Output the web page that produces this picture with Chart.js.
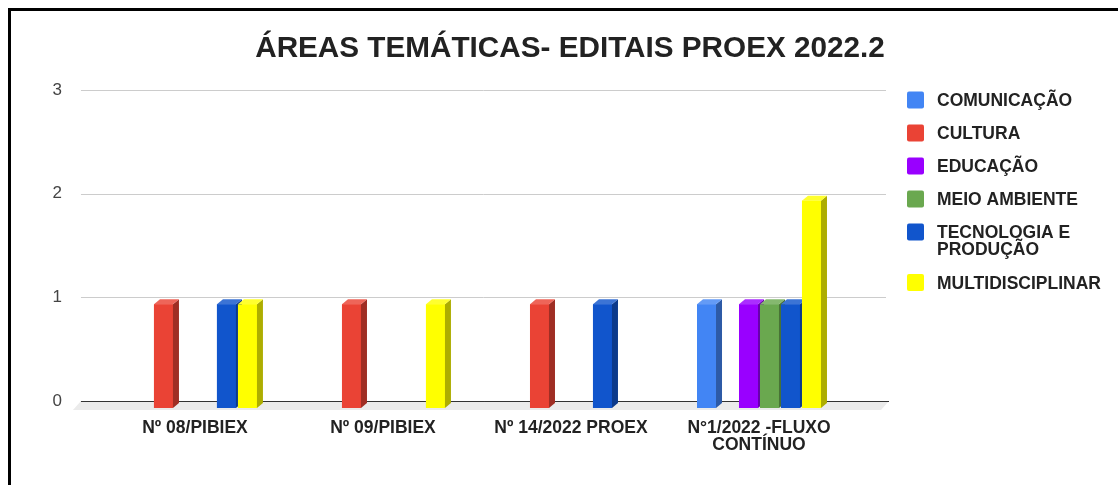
<!DOCTYPE html>
<html>
<head>
<meta charset="utf-8">
<script src="https://cdn.jsdelivr.net/npm/chart.js@4.4.0/dist/chart.umd.min.js"></script>
<style>
  html, body { margin: 0; padding: 0; background: #fff; }
  #wrap { width: 1118px; height: 485px; position: relative; }
</style>
</head>
<body>
<div id="wrap"><canvas id="grafico"></canvas></div>
<script>
// dados
const categorias = ['Nº 08/PIBIEX', 'Nº 09/PIBIEX', 'Nº 14/2022 PROEX', ['N°1/2022 -FLUXO', 'CONTÍNUO']];
const areas = ['COMUNICAÇÃO', 'CULTURA', 'EDUCAÇÃO', 'MEIO AMBIENTE', 'TECNOLOGIA E PRODUÇÃO', 'MULTIDISCIPLINAR'];
const comunicacao      = [0, 0, 0, 1];
const cultura          = [1, 1, 1, 0];
const educacao         = [0, 0, 0, 1];
const meioAmbiente     = [0, 0, 0, 1];
const tecnologia       = [1, 0, 1, 1];
const multidisciplinar = [1, 1, 0, 2];
const cores = ['#4285f4', '#ea4335', '#9900ff', '#6aa84f', '#1155cc', '#ffff00'];
const titulo = 'ÁREAS TEMÁTICAS- EDITAIS PROEX 2022.2';

const FONTE = "'Liberation Sans', Arial, sans-serif";
const FRENTE = 7;          // deslocamento vertical da face frontal
const PX = 6, PY = 5;      // profundidade das barras

function misturar(hex, alvo, f) {
    const n = parseInt(hex.slice(1), 16);
    const c = [(n >> 16) & 255, (n >> 8) & 255, n & 255].map(v => Math.round(v + (alvo - v) * f));
    return 'rgb(' + c.join(',') + ')';
}

// chao, linhas de grade e eixo
const fundo = {
    id: 'fundo',
    beforeDatasetsDraw(chart) {
        const { ctx, chartArea, scales: { y } } = chart;
        const y0 = y.getPixelForValue(0);
        const esq = chartArea.left - 20, dir = chartArea.right + 33;
        ctx.save();
        ctx.fillStyle = '#ebebeb';
        ctx.beginPath();
        ctx.moveTo(esq, y0);
        ctx.lineTo(dir + 3, y0);
        ctx.lineTo(dir - 5, y0 + 9);
        ctx.lineTo(esq - 8, y0 + 9);
        ctx.closePath();
        ctx.fill();
        y.ticks.forEach(t => {
            const py = Math.round(y.getPixelForValue(t.value)) + 0.5;
            ctx.strokeStyle = t.value === 0 ? '#333333' : '#cccccc';
            ctx.lineWidth = 1;
            ctx.beginPath();
            ctx.moveTo(esq, py);
            ctx.lineTo(t.value === 0 ? dir + 3 : dir, py);
            ctx.stroke();
        });
        ctx.restore();
        ctx.save();
        ctx.translate(0, FRENTE);
    },
    afterDatasetsDraw(chart) {
        const ctx = chart.ctx;
        ctx.restore();
        ctx.save();
        chart.data.datasets.forEach((ds, i) => {
            const meta = chart.getDatasetMeta(i);
            meta.data.forEach((bar, j) => {
                if (!ds.data[j]) return;
                const { x, y, base, width } = bar.getProps(['x', 'y', 'base', 'width'], true);
                const l = x - width / 2, r = x + width / 2;
                const t = y + FRENTE, b = base + FRENTE;
                ctx.fillStyle = ds.backgroundColor;
                ctx.fillRect(l, t, width, b - t);
                ctx.fillStyle = misturar(ds.backgroundColor, 0, 0.32);
                ctx.beginPath();
                ctx.moveTo(r, t); ctx.lineTo(r + PX, t - PY); ctx.lineTo(r + PX, b - PY); ctx.lineTo(r, b);
                ctx.closePath(); ctx.fill();
                ctx.fillStyle = misturar(ds.backgroundColor, 255, 0.18);
                ctx.beginPath();
                ctx.moveTo(l, t); ctx.lineTo(l + PX, t - PY); ctx.lineTo(r + PX, t - PY); ctx.lineTo(r, t);
                ctx.closePath(); ctx.fill();
            });
        });
        ctx.restore();
    }
};

// titulo, legenda e moldura
const extras = {
    id: 'extras',
    afterDraw(chart) {
        const ctx = chart.ctx;
        ctx.save();
        ctx.fillStyle = '#222222';
        ctx.font = 'bold 29.7px ' + FONTE;
        ctx.textAlign = 'center';
        ctx.textBaseline = 'alphabetic';
        ctx.fillText(titulo, 570, 57);

        ctx.font = 'bold 17.5px ' + FONTE;
        ctx.textAlign = 'left';
        let cy = 100;
        chart.data.datasets.forEach(ds => {
            const palavras = ds.label.split(' ');
            const linhas = [];
            let atual = '';
            palavras.forEach(p => {
                const teste = atual ? atual + ' ' + p : p;
                if (atual && ctx.measureText(teste).width > 160) { linhas.push(atual); atual = p; }
                else atual = teste;
            });
            linhas.push(atual);
            ctx.fillStyle = ds.backgroundColor;
            ctx.beginPath();
            ctx.roundRect(907, cy - 8.5, 17, 17, 2);
            ctx.fill();
            ctx.fillStyle = '#222222';
            linhas.forEach((ln, k) => ctx.fillText(ln, 937, cy + 6.3 + k * 16.5));
            cy += 33 + (linhas.length - 1) * 17.5;
        });

        ctx.fillStyle = '#000000';
        ctx.fillRect(8, 8, 1110, 3);
        ctx.fillRect(8, 8, 3, 477);
        ctx.restore();
    }
};

const series = [comunicacao, cultura, educacao, meioAmbiente, tecnologia, multidisciplinar];

new Chart(document.getElementById('grafico'), {
    type: 'bar',
    data: {
        labels: categorias,
        datasets: series.map((s, i) => ({
            label: areas[i],
            data: s,
            backgroundColor: cores[i],
            borderWidth: 0,
            categoryPercentage: 0.67,
            barPercentage: 0.905
        }))
    },
    options: {
        responsive: true,
        maintainAspectRatio: false,
        animation: false,
        layout: { padding: { top: 90, left: 13.5, right: 265, bottom: 13 } },
        plugins: {
            legend: { display: false },
            title: { display: false },
            tooltip: { enabled: false }
        },
        scales: {
            x: {
                grid: { display: false, drawTicks: false },
                border: { display: false },
                ticks: {
                    padding: 18,
                    color: '#222222',
                    maxRotation: 0,
                    font: { family: FONTE, size: 17.5, weight: 'bold', lineHeight: 1 }
                }
            },
            y: {
                min: 0,
                max: 3,
                grid: { display: false, drawTicks: false },
                border: { display: false },
                ticks: {
                    stepSize: 1,
                    padding: 39,
                    color: '#444444',
                    font: { family: FONTE, size: 17 }
                }
            }
        }
    },
    plugins: [fundo, extras]
});
</script>
</body>
</html>
